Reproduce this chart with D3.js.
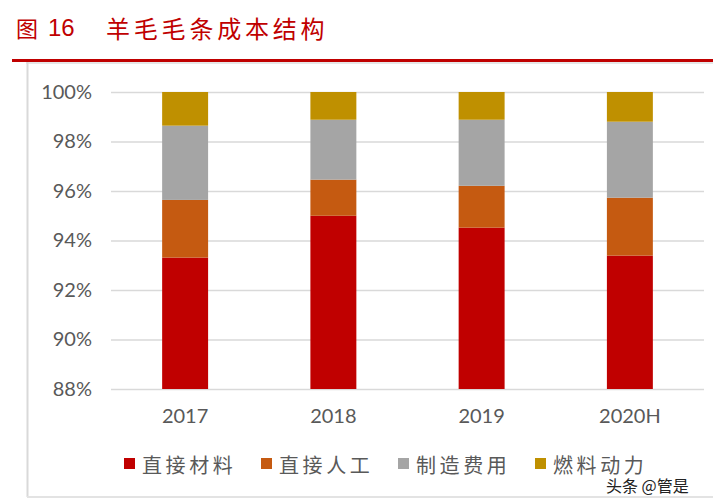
<!DOCTYPE html>
<html>
<head>
<meta charset="utf-8">
<script src="https://cdn.jsdelivr.net/npm/d3@7/dist/d3.min.js"></script>
<style>
html,body{margin:0;padding:0;background:#fff;}
svg{display:block;}
</style>
</head>
<body>
<svg id="chart" width="713" height="500"></svg>
<script>
// ---- data ----
const categories = ["2017", "2018", "2019", "2020H"];
const seriesNames = ["直接材料", "直接人工", "制造费用", "燃料动力"];
const directMaterial = [93.31, 95.00, 94.52, 93.39];
const directLabor = [2.33, 1.46, 1.69, 2.34];
const manufacturing = [3.00, 2.42, 2.67, 3.07];
const fuelPower = [1.36, 1.12, 1.12, 1.20];
const yTicks = [88, 90, 92, 94, 96, 98, 100];
const seriesColors = ["#C00000", "#C55A11", "#A5A5A5", "#BF9000"];
const titleLabel = "图 16";
const titleText = "羊毛毛条成本结构";
const watermark = "头条 @管是";

(function () {
const svg = d3.select("#chart");
const W = 713, H = 500;

// frame
svg.append("rect").attr("x", 12).attr("y", 59).attr("width", W - 12).attr("height", 3).attr("fill", "#C00000");
svg.append("rect").attr("x", 26).attr("y", 62).attr("width", W - 26).attr("height", 2).attr("fill", "#E6E6E6");
svg.append("line").attr("x1", 27.5).attr("x2", 27.5).attr("y1", 62).attr("y2", 497)
  .attr("stroke", "#D9D9D9").attr("stroke-width", 2);
svg.append("line").attr("x1", 27).attr("x2", W).attr("y1", 497).attr("y2", 497)
  .attr("stroke", "#E3E3E3").attr("stroke-width", 2);

// title
const cjk = "'Noto Sans CJK SC','Noto Sans CJK JP',sans-serif";
svg.append("text").attr("x", 16).attr("y", 27).attr("dominant-baseline", "central")
  .attr("fill", "#C00000").style("font-family", cjk).style("font-size", "22px")
  .text(titleLabel.split(" ")[0]);
svg.append("text").attr("x", 48).attr("y", 27).attr("dominant-baseline", "central")
  .attr("fill", "#C00000").style("font-family", "'Liberation Sans',sans-serif").style("font-size", "24px")
  .text(titleLabel.split(" ")[1]);
svg.append("text").attr("x", 106).attr("y", 27).attr("dominant-baseline", "central")
  .attr("fill", "#C00000").style("font-family", cjk).style("font-size", "24px")
  .style("letter-spacing", "3.8px").text(titleText);

// scales
const pLeft = 111, pRight = 704, pTop = 92, pBottom = 389;
const x = d3.scaleBand().domain(categories).range([pLeft, pRight]).paddingInner(0.69).paddingOuter(0.345);
const y = d3.scaleLinear().domain([88, 100]).range([pBottom, pTop]);

// gridlines
const grid = svg.append("g").attr("transform", `translate(${pLeft},0)`)
  .call(d3.axisLeft(y).tickValues(yTicks).tickSize(-(pRight - pLeft)).tickFormat(""));
grid.select(".domain").remove();
grid.selectAll(".tick line").attr("stroke", "#D9D9D9").attr("stroke-width", 1.5);

// y axis labels
const labelFont = "Lato,'Liberation Sans',sans-serif";
const yAxis = svg.append("g").attr("transform", `translate(${pLeft - 19},0)`)
  .call(d3.axisLeft(y).tickValues(yTicks).tickSize(0).tickPadding(0).tickFormat(d => d + "%"));
yAxis.select(".domain").remove();
yAxis.selectAll("text").attr("fill", "#595959").style("font-family", labelFont).style("font-size", "20px");

// stacked bars
const rows = categories.map((c, i) => ({
  cat: c,
  s0: directMaterial[i], s1: directLabor[i], s2: manufacturing[i], s3: fuelPower[i]
}));
const keys = ["s0", "s1", "s2", "s3"];
const stacked = d3.stack().keys(keys)(rows);
const clipY = d => Math.max(88, Math.min(100, d));
svg.append("g").selectAll("g").data(stacked).join("g")
  .attr("fill", (d, i) => seriesColors[i])
  .selectAll("rect").data(d => d).join("rect")
  .attr("x", d => x(d.data.cat))
  .attr("width", x.bandwidth())
  .attr("y", d => y(clipY(d[1])))
  .attr("height", d => y(clipY(d[0])) - y(clipY(d[1])));

// x axis labels
const xAxis = svg.append("g").attr("transform", `translate(0,${pBottom + 20})`)
  .call(d3.axisBottom(x).tickSize(0).tickPadding(0));
xAxis.select(".domain").remove();
xAxis.selectAll("text").attr("fill", "#595959").style("font-family", labelFont).style("font-size", "20px");

// legend
const legendX = [124, 261, 398, 535];
const lg = svg.append("g").selectAll("g").data(seriesNames).join("g")
  .attr("transform", (d, i) => `translate(${legendX[i]},0)`);
lg.append("rect").attr("x", 0).attr("y", 458).attr("width", 11).attr("height", 11)
  .attr("fill", (d, i) => seriesColors[i]);
lg.append("text").attr("x", 18).attr("y", 464).attr("dominant-baseline", "central")
  .attr("fill", "#595959").style("font-family", cjk).style("font-size", "20px")
  .style("letter-spacing", "3.6px").text(d => d);

// watermark
svg.append("text").attr("x", 606).attr("y", 485).attr("dominant-baseline", "central")
  .attr("fill", "#222").attr("stroke", "#fff").attr("stroke-width", 2).attr("paint-order", "stroke")
  .style("font-family", cjk).style("font-size", "16px").text(watermark);
})();
</script>
</body>
</html>
